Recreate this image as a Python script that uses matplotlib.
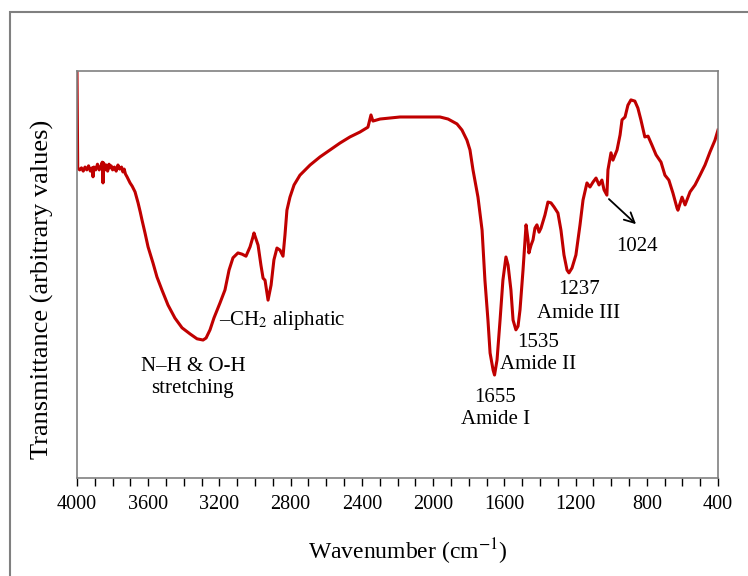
import numpy as np
import matplotlib
matplotlib.use("Agg")
import matplotlib.pyplot as plt
from matplotlib.patches import Rectangle

plt.rcParams["font.family"] = ["Liberation Serif", "DejaVu Serif"]
plt.rcParams["mathtext.fontset"] = "stix"

#FTIR spectrum (wavenumber in cm-1, transmittance in arbitrary units)
wavenumber = [4000, 3996, 3985, 3975, 3965, 3955, 3945, 3935, 3925, 3915, 3910, 3905, 3895,
              3885, 3875, 3865, 3858, 3854, 3850, 3843, 3835, 3828, 3820, 3815, 3808, 3800,
              3790, 3780, 3770, 3760, 3750, 3742, 3735, 3728, 3719, 3710, 3702, 3690, 3674,
              3657, 3645, 3635, 3618, 3601, 3573, 3551, 3523, 3489, 3450, 3410, 3365, 3326,
              3292, 3275, 3253, 3231, 3197, 3169, 3146, 3124, 3096, 3073, 3051, 3028, 3012,
              3006, 2983, 2967, 2955, 2944, 2927, 2910, 2894, 2877, 2860, 2843, 2832, 2821,
              2804, 2781, 2748, 2691, 2635, 2579, 2523, 2467, 2411, 2366, 2349, 2338, 2298,
              2186, 2074, 1961, 1916, 1866, 1838, 1810, 1793, 1776, 1748, 1725, 1709, 1692,
              1680, 1663, 1655, 1641, 1624, 1608, 1591, 1579, 1563, 1551, 1535, 1523, 1512,
              1495, 1478, 1467, 1462, 1450, 1439, 1428, 1417, 1405, 1394, 1372, 1355, 1338,
              1321, 1299, 1282, 1265, 1248, 1237, 1220, 1198, 1175, 1158, 1136, 1119, 1102,
              1085, 1068, 1052, 1040, 1024, 1018, 1001, 990, 967, 950, 939, 922, 906, 889,
              867, 850, 833, 811, 793, 771, 748, 720, 698, 676, 653, 630, 625, 602, 585,
              557, 529, 501, 473, 445, 417, 400]
transmittance = [100.0, 76.2, 75.7, 76.2, 75.4, 76.4, 75.7, 76.7, 75.4, 76.2, 74.0, 76.4, 75.7,
                 77.1, 75.7, 76.7, 77.6, 72.5, 77.4, 75.7, 76.9, 75.4, 77.1, 76.2, 76.7, 75.7,
                 76.4, 75.4, 76.9, 75.9, 76.4, 75.2, 75.9, 74.7, 74.0, 73.2, 72.5, 71.7, 70.3,
                 67.6, 65.4, 63.4, 60.2, 56.8, 52.8, 49.4, 46.2, 42.5, 39.3, 36.9, 35.4, 34.2,
                 33.9, 34.4, 36.4, 39.3, 43.0, 46.2, 51.1, 54.1, 55.3, 55.0, 54.5, 56.8, 59.2,
                 60.2, 57.2, 52.3, 49.1, 48.6, 43.7, 47.4, 53.6, 56.5, 56.0, 54.5, 59.7, 65.8,
                 69.0, 72.0, 74.4, 76.9, 78.9, 80.6, 82.3, 83.8, 85.0, 86.2, 89.2, 87.7, 88.2,
                 88.7, 88.7, 88.7, 88.2, 87.0, 85.5, 83.0, 80.6, 75.7, 69.0, 60.9, 48.6, 38.8,
                 30.7, 26.5, 25.3, 29.0, 38.8, 48.6, 54.3, 52.3, 46.2, 38.8, 36.4, 37.3, 41.3,
                 51.1, 62.2, 58.5, 55.3, 57.2, 58.5, 61.4, 62.2, 60.4, 61.4, 64.6, 67.8, 67.6,
                 66.6, 65.1, 60.9, 54.8, 51.1, 50.4, 51.6, 54.8, 62.2, 68.3, 72.5, 71.5, 72.7,
                 73.7, 72.0, 73.2, 70.8, 69.5, 75.7, 79.9, 78.1, 80.6, 84.3, 88.0, 88.7, 91.6, 92.9,
                 92.6, 90.9, 88.0, 83.8, 84.0, 81.8, 79.4, 77.6, 74.4, 73.2, 70.0, 66.3, 65.8, 69.0, 67.1,
                 70.3, 72.0, 74.4, 76.9, 80.1, 83.0, 85.5]

#band labels: (text, wavenumber, transmittance)
band_labels = [
    ("N–H & O-H", 3349, 27.5),
    ("stretching", 3349, 21.9),
    ("1655", 1652, 19.9),
    ("Amide I", 1652, 14.3),
    ("1535", 1411, 33.4),
    ("Amide II", 1411, 27.8),
    ("1237", 1181, 46.2),
    ("Amide III", 1181, 40.5),
    ("1024", 855, 56.8),
]

xticks = [4000, 3600, 3200, 2800, 2400, 2000, 1600, 1200, 800, 400]

fig = plt.figure(figsize=(7.48, 5.76), dpi=100)
ax = fig.add_axes([77/748, 98/576, 641/748, 407/576])

ax.plot(wavenumber, transmittance, color="#c00000", lw=2.2, solid_joinstyle="round")

ax.set_xlim(4000, 400)
ax.set_ylim(0, 100)
ax.set_xticks(xticks)
ax.set_xticks(np.arange(400, 4001, 100), minor=True)
ax.set_yticks([])
ax.tick_params(axis="x", which="both", direction="out", length=5.5, width=1,
               colors="black", labelsize=14.5, pad=7)
for s in ax.spines.values():
    s.set_color("#808080")
    s.set_linewidth(1.2)

for txt, x, y in band_labels:
    ax.text(x, y, txt, ha="center", va="center", fontsize=15)
ax.text(3203, 38.6, "–CH$_2$ aliphatic", ha="left", va="center", fontsize=15)

#arrow pointing at the 1024 band
ax.annotate("", xy=(849, 61.9), xytext=(1024, 69.0),
            arrowprops=dict(arrowstyle="->", color="black", lw=1.3, mutation_scale=18))

fig.text(408/748, 1-552/576, "Wavenumber (cm$^{-1}$)", ha="center", va="center", fontsize=17)
fig.text(42/748, 1-289/576, "Transmittance (arbitrary values)", ha="center", va="center",
         rotation=90, fontsize=19)

#outer frame of the figure (only top and left visible)
fig.patches.append(Rectangle((10/748, -0.1), 1.2, 1-12/576+0.1, transform=fig.transFigure,
                             fill=False, edgecolor="#808080", lw=1.5))

fig.savefig("out.png", dpi=100)
